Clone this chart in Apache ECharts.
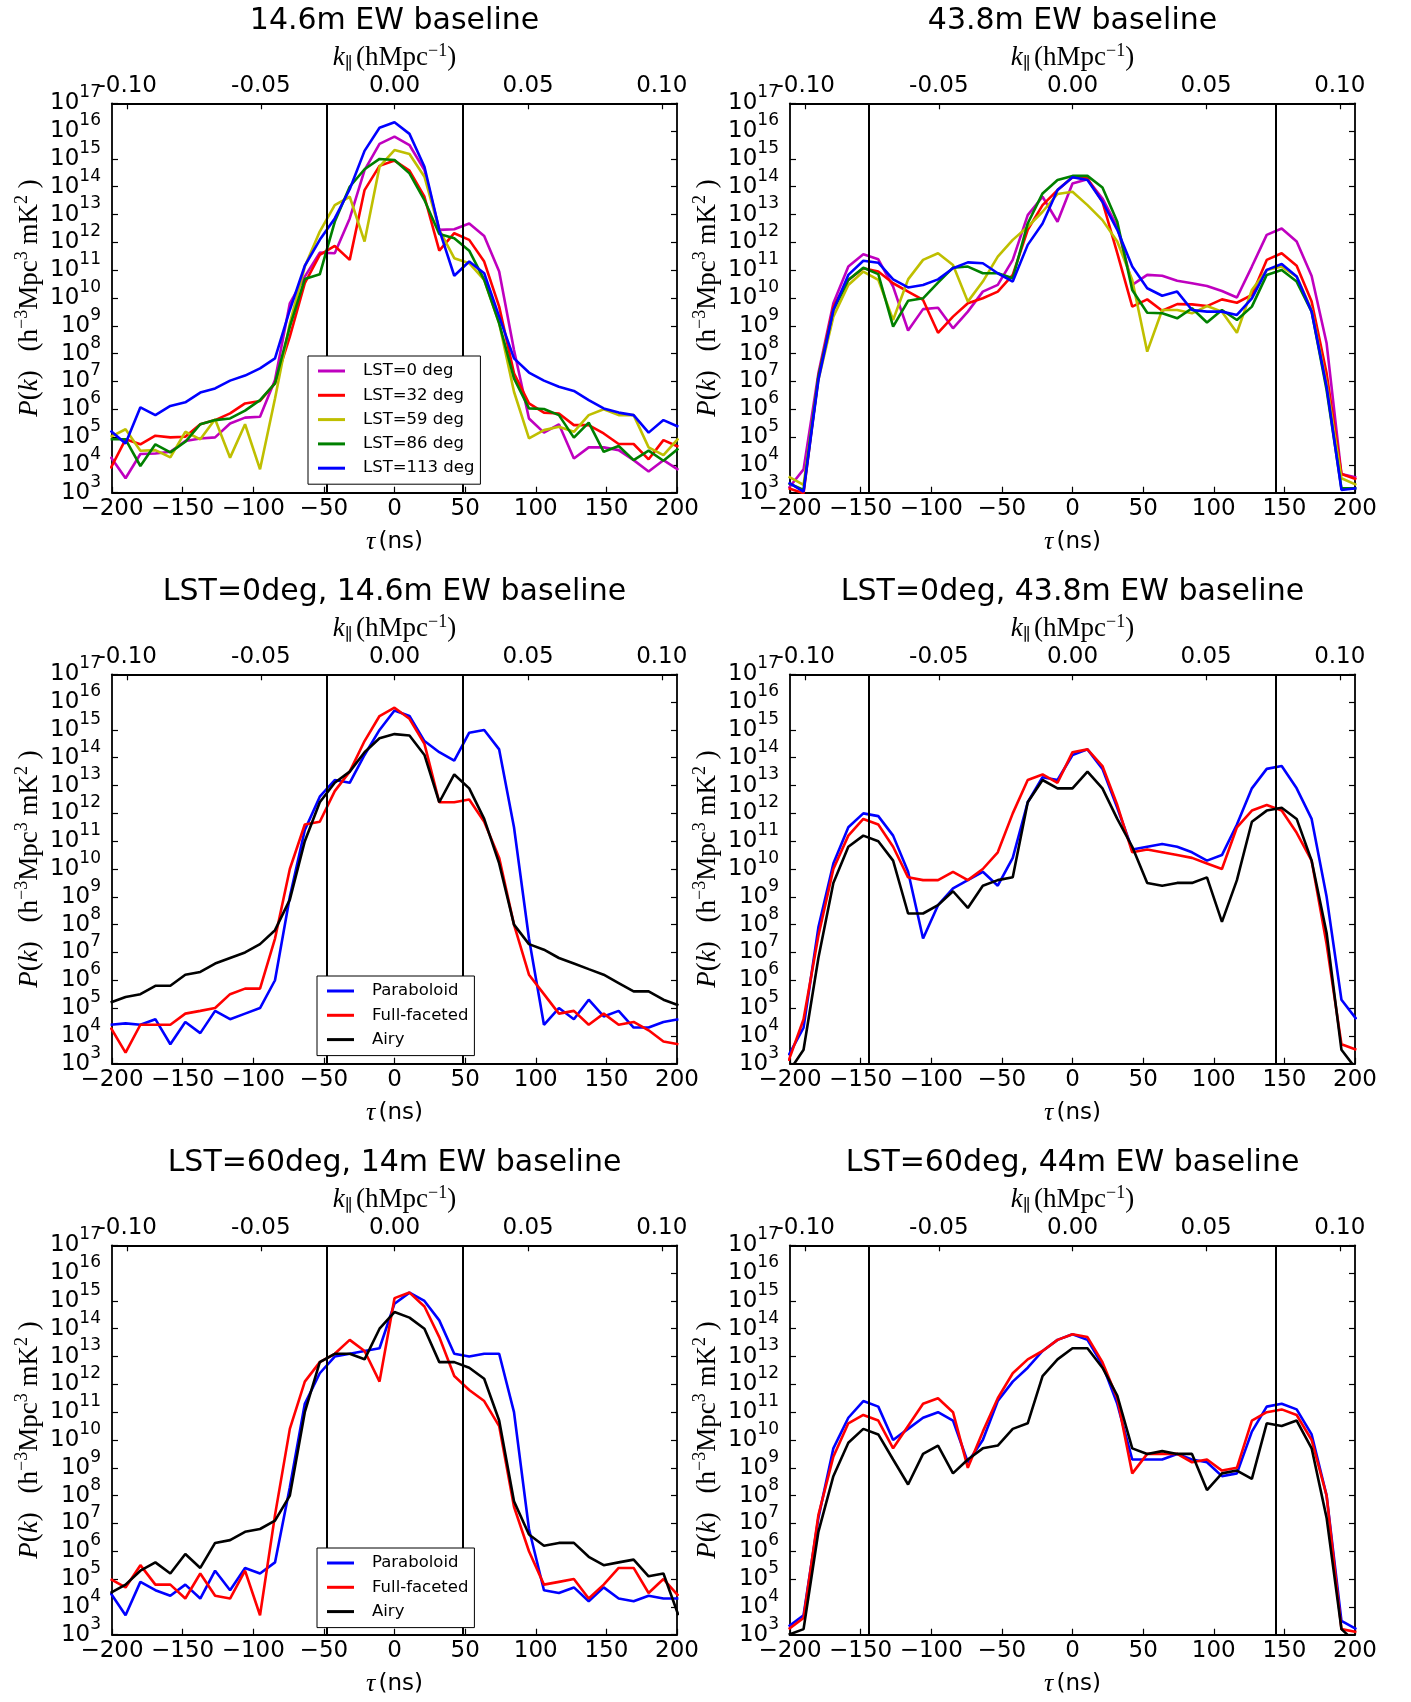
<!DOCTYPE html>
<html><head><meta charset="utf-8">
<script src="https://cdn.jsdelivr.net/npm/echarts@6/dist/echarts.min.js"></script>
<style>html,body{margin:0;padding:0;background:#fff}#c{width:1411px;height:1702px}</style>
</head><body><div id="c"></div>
<script>
// delay samples tau (ns)
const tau = [-201.0,-190.4,-179.9,-169.3,-158.7,-148.1,-137.5,-127.0,-116.4,-105.8,-95.2,-84.6,-74.1,-63.5,-52.9,-42.3,-31.7,-21.2,-10.6,0,10.6,21.2,31.7,42.3,52.9,63.5,74.1,84.6,95.2,105.8,116.4,127.0,137.5,148.1,158.7,169.3,179.9,190.4,201.0];
const xTicks = [-200,-150,-100,-50,0,50,100,150,200];
const kTicks = [-0.10,-0.05,0.00,0.05,0.10];
const kMax = 0.1057;          // k at tau = 200 ns
const yExpMin = 3, yExpMax = 17;
const horizon14 = 48, horizon44 = 144;

// ---- values below are log10 P(k) ----
// Panel 1: 14.6m EW baseline
const p1_lst0   = [4.29,3.52,4.39,4.41,4.47,4.86,4.95,4.99,5.49,5.70,5.73,7.05,9.81,10.77,11.63,11.61,12.86,14.60,15.54,15.80,15.50,14.60,12.45,12.47,12.68,12.23,10.95,8.13,5.67,5.16,5.46,4.23,4.63,4.63,4.53,4.17,3.76,4.17,3.82];
const p1_lst32  = [3.87,4.92,4.74,5.05,4.99,5.01,5.46,5.61,5.85,6.21,6.30,6.93,8.61,10.53,11.55,11.87,11.37,13.88,14.75,14.94,14.58,13.64,11.70,12.33,12.09,11.31,9.69,7.29,6.21,5.88,5.85,5.43,5.43,5.13,4.75,4.75,4.20,4.89,4.65];
const p1_lst59  = [5.01,5.28,4.51,4.53,4.27,5.19,4.92,5.64,4.26,5.46,3.84,6.39,9.09,11.13,12.39,13.34,13.64,12.03,14.72,15.32,15.18,14.36,12.45,11.43,11.25,10.65,9.09,6.63,4.95,5.25,5.37,5.19,5.79,6.00,5.79,5.79,4.63,4.35,4.95];
const p1_lst86  = [4.92,4.92,3.96,4.74,4.45,4.83,5.46,5.61,5.67,5.95,6.33,6.93,8.97,10.68,10.85,12.74,14.00,14.63,15.00,14.96,14.48,13.52,12.30,12.15,11.70,10.65,9.09,7.11,6.03,6.01,5.79,4.98,5.52,4.47,4.68,4.17,4.51,4.15,4.59];
const p1_lst113 = [5.23,4.77,6.07,5.79,6.12,6.25,6.60,6.75,7.03,7.21,7.47,7.83,9.57,11.16,12.09,12.86,13.91,15.29,16.12,16.32,15.90,14.72,12.45,10.80,11.31,10.89,9.33,7.83,7.32,7.03,6.81,6.66,6.33,6.03,5.88,5.79,5.16,5.61,5.37];
// Panel 2: 43.8m EW baseline
const p2_lst0   = [3.16,3.84,7.29,9.81,11.13,11.57,11.39,10.41,8.83,9.60,9.65,8.91,9.51,10.23,10.47,11.37,12.98,13.64,12.74,14.12,14.27,13.58,12.56,10.47,10.83,10.80,10.62,10.53,10.43,10.25,10.02,11.13,12.27,12.50,12.03,10.79,8.37,3.67,3.55];
const p2_lst32  = [3.16,2.98,7.17,9.69,10.65,11.07,10.95,10.53,10.23,9.93,8.75,9.33,9.81,9.99,10.23,10.83,12.45,13.34,13.88,14.34,14.30,13.46,11.61,9.69,9.95,9.54,9.78,9.77,9.71,9.95,9.83,10.11,11.37,11.61,11.16,9.87,7.29,3.67,3.48];
const p2_lst59  = [3.58,3.28,7.05,9.33,10.47,10.95,10.65,9.21,10.67,11.37,11.61,11.19,9.87,10.59,11.49,12.09,12.56,13.10,13.74,13.82,13.34,12.80,12.03,10.65,8.07,9.57,9.57,9.45,9.71,9.51,8.75,10.29,11.01,11.13,10.77,9.57,6.93,3.52,3.28];
const p2_lst86  = [3.34,3.10,7.17,9.57,10.65,11.09,10.86,8.97,9.90,9.99,10.55,11.09,11.13,10.89,10.89,10.71,12.68,13.76,14.24,14.39,14.39,13.97,12.74,10.29,9.47,9.45,9.27,9.63,9.12,9.57,9.21,9.69,10.83,11.01,10.59,9.51,6.69,3.16,3.16];
const p2_lst113 = [3.36,3.04,7.05,9.57,10.83,11.34,11.27,10.67,10.38,10.47,10.67,11.07,11.28,11.25,10.89,10.59,11.91,12.68,13.88,14.34,14.24,13.46,12.45,11.13,10.35,10.08,10.23,9.57,9.51,9.51,9.39,9.99,11.01,11.22,10.77,9.51,6.81,3.10,3.16];
// Panel 3: LST=0deg, 14.6m
const p3_para = [4.4,4.45,4.4,4.6,3.7,4.5,4.1,4.9,4.6,4.8,5.0,6.0,9.0,11.4,12.6,13.2,13.1,14.1,15.0,15.7,15.5,14.6,14.2,13.9,14.9,15.0,14.3,11.5,7.5,4.4,5.0,4.6,5.3,4.7,4.9,4.3,4.3,4.5,4.6];
const p3_full = [4.3,3.4,4.4,4.4,4.4,4.8,4.9,5.0,5.5,5.7,5.7,7.5,10.0,11.6,11.7,12.8,13.5,14.6,15.5,15.8,15.4,14.5,12.4,12.4,12.5,11.7,10.4,8.0,6.2,5.5,4.8,4.9,4.4,4.8,4.4,4.5,4.2,3.8,3.7];
const p3_airy = [5.2,5.4,5.5,5.8,5.8,6.2,6.3,6.6,6.8,7.0,7.3,7.8,8.9,11.0,12.4,13.1,13.5,14.2,14.7,14.85,14.8,14.1,12.4,13.4,12.9,11.8,10.2,8.0,7.3,7.1,6.8,6.6,6.4,6.2,5.9,5.6,5.6,5.3,5.1];
// Panel 4: LST=0deg, 43.8m
const p4_para = [3.3,4.3,7.9,10.2,11.5,12.0,11.9,11.2,9.9,7.5,8.7,9.3,9.6,9.9,9.4,10.4,12.4,13.3,13.2,14.1,14.3,13.6,12.2,10.7,10.8,10.9,10.8,10.6,10.3,10.5,11.6,12.9,13.6,13.7,12.9,11.8,9.0,5.3,4.6];
const p4_full = [3.1,4.6,7.6,10.0,11.2,11.8,11.6,10.8,9.7,9.6,9.6,9.9,9.6,10.0,10.6,12.0,13.2,13.4,13.1,14.2,14.3,13.7,12.3,10.6,10.7,10.6,10.5,10.4,10.2,10.0,11.5,12.1,12.3,12.1,11.3,10.3,7.3,3.7,3.5];
const p4_airy = [2.7,3.5,6.8,9.5,10.8,11.2,11.0,10.3,8.4,8.4,8.7,9.2,8.6,9.4,9.6,9.7,12.4,13.2,12.9,12.9,13.5,12.9,11.8,10.8,9.5,9.4,9.5,9.5,9.7,8.1,9.6,11.7,12.1,12.2,11.8,10.3,7.7,3.5,2.8];
// Panel 5: LST=60deg, 14m
const p5_para = [4.5,3.7,4.9,4.6,4.4,4.8,4.3,5.3,4.6,5.4,5.2,5.6,8.3,11.3,12.4,13.0,13.1,13.2,13.3,14.9,15.3,15.0,14.3,13.1,13.0,13.1,13.1,11.0,6.8,4.6,4.5,4.7,4.2,4.7,4.3,4.2,4.4,4.3,4.3];
const p5_full = [5.0,4.7,5.5,4.8,4.8,4.3,5.2,4.4,4.3,5.3,3.7,7.3,10.4,12.1,12.8,13.1,13.6,13.2,12.1,15.1,15.3,14.8,13.7,12.3,11.8,11.4,10.5,7.6,6.0,4.8,4.9,5.0,4.3,4.8,5.4,5.4,4.5,5.0,4.4];
const p5_airy = [4.5,4.8,5.3,5.6,5.2,5.9,5.4,6.3,6.4,6.7,6.8,7.1,8.0,11.0,12.8,13.1,13.1,12.9,14.0,14.6,14.4,14.0,12.8,12.8,12.6,12.2,10.7,7.8,6.6,6.2,6.3,6.3,5.8,5.5,5.6,5.7,5.1,5.2,3.7];
// Panel 6: LST=60deg, 44m
const p6_para = [3.3,3.7,7.2,9.7,10.8,11.4,11.2,10.0,10.4,10.8,11.0,10.7,9.2,10.0,11.4,12.1,12.6,13.2,13.6,13.8,13.6,12.7,11.3,9.3,9.3,9.3,9.5,9.3,9.2,8.7,8.8,10.3,11.2,11.3,11.1,10.2,8.0,3.5,3.2];
const p6_full = [3.2,3.6,7.3,9.4,10.6,10.9,10.7,9.7,10.5,11.3,11.5,11.0,9.0,10.3,11.5,12.4,12.9,13.2,13.6,13.8,13.7,12.8,11.5,8.8,9.5,9.5,9.5,9.2,9.3,8.9,9.0,10.7,11.0,11.1,10.9,10.0,8.0,3.2,3.1];
const p6_airy = [3.0,3.2,6.7,8.7,9.9,10.4,10.2,9.3,8.4,9.5,9.8,8.8,9.3,9.7,9.8,10.4,10.6,12.3,12.9,13.3,13.3,12.6,11.6,9.7,9.5,9.6,9.5,9.5,8.2,8.8,8.9,8.6,10.6,10.5,10.7,9.7,7.2,3.2,2.7];

const lstNames = ['LST=0 deg','LST=32 deg','LST=59 deg','LST=86 deg','LST=113 deg'];
const beamNames = ['Paraboloid','Full-faceted','Airy'];
const titles = ['14.6m EW baseline','43.8m EW baseline','LST=0deg, 14.6m EW baseline','LST=0deg, 43.8m EW baseline','LST=60deg, 14m EW baseline','LST=60deg, 44m EW baseline'];

const C = {m:'#bf00bf', r:'#ff0000', y:'#bfbf00', g:'#008000', b:'#0000ff', k:'#000000'};
const SANS = "'DejaVu Sans', sans-serif";
const SERIF = "'Liberation Serif', 'DejaVu Serif', serif";

const panels = [
  {r:0,c:0,h:horizon14,s:[[lstNames[0],C.m,p1_lst0],[lstNames[1],C.r,p1_lst32],[lstNames[2],C.y,p1_lst59],[lstNames[3],C.g,p1_lst86],[lstNames[4],C.b,p1_lst113]],
   legend:{left:308,top:356,names:lstNames}},
  {r:0,c:1,h:horizon44,s:[[lstNames[0],C.m,p2_lst0],[lstNames[1],C.r,p2_lst32],[lstNames[2],C.y,p2_lst59],[lstNames[3],C.g,p2_lst86],[lstNames[4],C.b,p2_lst113]]},
  {r:1,c:0,h:horizon14,s:[[beamNames[0],C.b,p3_para],[beamNames[1],C.r,p3_full],[beamNames[2],C.k,p3_airy]],
   legend:{left:317,top:976,names:beamNames}},
  {r:1,c:1,h:horizon44,s:[[beamNames[0],C.b,p4_para],[beamNames[1],C.r,p4_full],[beamNames[2],C.k,p4_airy]]},
  {r:2,c:0,h:horizon14,s:[[beamNames[0],C.b,p5_para],[beamNames[1],C.r,p5_full],[beamNames[2],C.k,p5_airy]],
   legend:{left:317,top:1548,names:beamNames}},
  {r:2,c:1,h:horizon44,s:[[beamNames[0],C.b,p6_para],[beamNames[1],C.r,p6_full],[beamNames[2],C.k,p6_airy]]}
];

const GL = [112, 790], GW = 565, GH = 389.4, GT0 = 103.3, ROWH = 571;
const option = {animation:false, backgroundColor:'#fff', title:[], grid:[], xAxis:[], yAxis:[], legend:[], series:[]};

const frame = {show:true, onZero:false, lineStyle:{color:'#000', width:1.8}};
const tick = {show:true, inside:true, length:6, lineStyle:{color:'#000', width:1.2}};
const supRich = {
  b:{fontSize:23, fontFamily:SANS, color:'#000', lineHeight:23},
  s:{fontSize:17, fontFamily:SANS, color:'#000', lineHeight:18, padding:[0,0,21,0]}
};
const expOf = v => Math.round(Math.log10(v));
const supLabel = v => '{b|10}{s|' + expOf(v) + '}';
const yBase = {type:'log', logBase:10, min:Math.pow(10,yExpMin), max:Math.pow(10,yExpMax), interval:1,
  splitLine:{show:false}, minorTick:{show:false}};

panels.forEach((p, i) => {
  const left = GL[p.c], top = GT0 + ROWH * p.r;
  const cx = left + GW / 2;
  option.title.push({text: titles[i], left: cx, top: top - 97.5, textAlign:'center', padding:0,
    textStyle:{fontFamily:SANS, fontSize:30, fontWeight:'normal', color:'#000', lineHeight:30}});
  option.grid.push({left:left, top:top, width:GW, height:GH, containLabel:false});
  option.xAxis.push({gridIndex:i, type:'value', position:'bottom', min:xTicks[0], max:xTicks[xTicks.length-1], interval:50,
    axisLine:frame, axisTick:tick, splitLine:{show:false},
    axisLabel:{margin:5, fontSize:23, fontFamily:SANS, color:'#000',
      formatter: v => v < 0 ? '\u2212' + Math.abs(v) : String(v)},
    name:'{i|\u03c4} {t|(ns)}', nameLocation:'middle', nameGap:36,
    nameTextStyle:{rich:{i:{fontFamily:SERIF, fontStyle:'italic', fontSize:26, color:'#000'}, t:{fontFamily:SANS, fontSize:23, color:'#000'}}}
  });
  option.xAxis.push({gridIndex:i, type:'value', position:'top', min:-kMax, max:kMax,
    axisLine:frame, axisTick:Object.assign({}, tick, {customValues:kTicks}), splitLine:{show:false},
    axisLabel:{customValues:kTicks, margin:6, fontSize:23, fontFamily:SANS, color:'#000', formatter: v => v.toFixed(2)},
    name:'{i|k}{sub|\u2225} {r|(hMpc}{s|\u22121}{r|)}', nameLocation:'middle', nameGap:27,
    nameTextStyle:{rich:{
      i:{fontFamily:SERIF, fontStyle:'italic', fontSize:27, color:'#000'},
      sub:{fontFamily:SERIF, fontSize:17, color:'#000', padding:[13,0,0,0]},
      r:{fontFamily:SERIF, fontSize:27, color:'#000'},
      s:{fontFamily:SERIF, fontSize:18, color:'#000', padding:[0,0,15,0]}}}
  });
  // main left axis (all ticks; labels; min/max labels forced)
  option.yAxis.push(Object.assign({}, yBase, {gridIndex:i, position:'left',
    axisLine:frame, axisTick:tick,
    axisLabel:{margin:11, showMinLabel:true, showMaxLabel:true, hideOverlap:false, formatter: supLabel, rich:supRich},
    name:'{i|P}{r|(}{i|k}{r|)}{g| }{r|(h}{s|\u22123}{r|Mpc}{s|3}{r| mK}{s|2}{r| )}', nameLocation:'middle', nameRotate:90, nameGap:66,
    nameTextStyle:{rich:{
      i:{fontFamily:SERIF, fontStyle:'italic', fontSize:27, color:'#000'},
      r:{fontFamily:SERIF, fontSize:27, color:'#000'},
      g:{fontFamily:SERIF, fontSize:27, color:'#000', padding:[0,6,0,6]},
      s:{fontFamily:SERIF, fontSize:18, color:'#000', padding:[0,0,15,0]}}}
  }));
  // right frame axis
  option.yAxis.push(Object.assign({}, yBase, {gridIndex:i, position:'right',
    axisLine:frame, axisTick:tick, axisLabel:{show:false}}));
  // helper left axis: labels next to the min/max decades only
  option.yAxis.push(Object.assign({}, yBase, {gridIndex:i, position:'left', offset:0,
    axisLine:{show:false}, axisTick:{show:false},
    axisLabel:{margin:11, showMinLabel:false, showMaxLabel:false, hideOverlap:false, rich:supRich,
      formatter: v => { const e = expOf(v); return (e === yExpMin + 1 || e === yExpMax - 1) ? supLabel(v) : ''; }}
  }));
  p.s.forEach((s, j) => {
    const ser = {type:'line', name:s[0], xAxisIndex:2*i, yAxisIndex:3*i, color:s[1],
      data: tau.map((t, k) => [t, Math.pow(10, s[2][k])]),
      symbol:'none', lineStyle:{color:s[1], width:2.6}, clip:true, silent:true, z:2};
    if (j === p.s.length - 1) {
      ser.markLine = {silent:true, symbol:'none', label:{show:false}, animation:false,
        lineStyle:{color:'#000', width:2, type:'solid'},
        data:[{xAxis:-p.h},{xAxis:p.h}]};
    }
    option.series.push(ser);
  });
  if (p.legend) {
    option.legend.push({left:p.legend.left, top:p.legend.top, orient:'vertical', data:p.legend.names,
      selectedMode:false, backgroundColor:'#fff', borderColor:'#000', borderWidth:1, borderRadius:0,
      padding:[5,6,6,10], itemWidth:27, itemHeight:3, itemGap:4.3, icon:'rect', z:10,
      textStyle:{fontSize:16.5, fontFamily:SANS, color:'#000', lineHeight:20, padding:[0,0,0,13]}});
  }
});

const chart = echarts.init(document.getElementById('c'), null, {renderer:'canvas'});
chart.setOption(option);
</script>
</body></html>
